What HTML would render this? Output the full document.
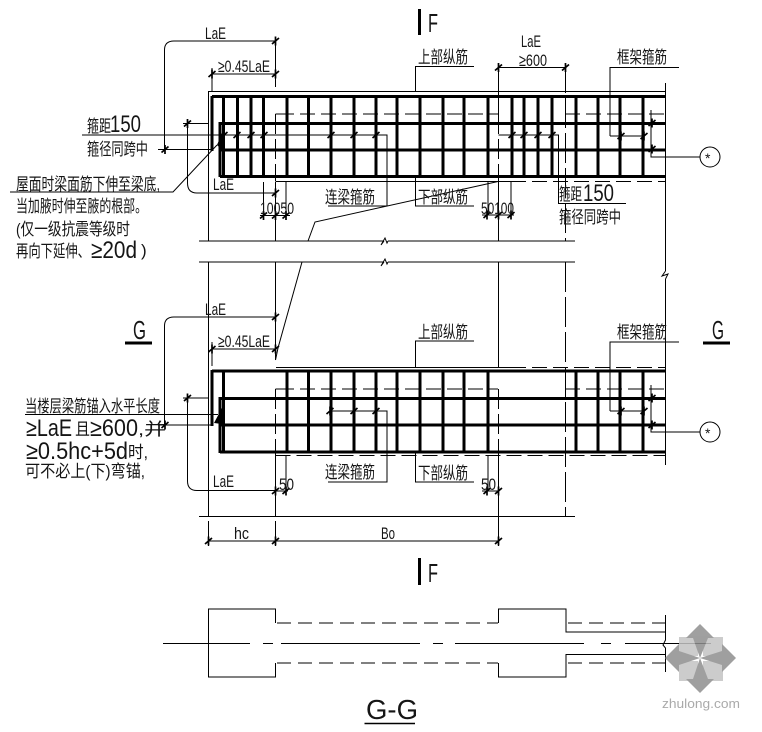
<!DOCTYPE html>
<html><head><meta charset="utf-8"><style>
html,body{margin:0;padding:0;background:#fff}
svg{display:block}
text{font-family:"Liberation Sans","Noto Sans CJK SC",sans-serif;fill:#151515}
.c{font-size:17px}
.l{font-size:17px}
.b{font-size:24px}
</style></head><body>
<svg width="762" height="732" viewBox="0 0 762 732" xmlns="http://www.w3.org/2000/svg">
<defs><path id="t" d="M-3.5,3 L3.5,-3 M0,-4.5 L0,4.5" stroke="#000" stroke-width="1.7" fill="none"/></defs>

<!-- thin lines -->
<g fill="none" stroke="#000" stroke-width="1">
<path d="M208.5,241V91.5H665M275.5,41V87M275.5,181.5V241M276,181.5H511M199,241H384M388,241H575M199,262H384M388,262H575M208.5,262V516.5M275.5,262V360M275.5,456V516.5M665.5,83V271M665.5,279V465"/>
<path d="M384,241L381,245L385,238L387,243L388,241M384,262L381,266L385,259L387,264L388,262M665.5,271L662,276L668,274L665.5,279"/>
<path d="M498.5,63V114M498.5,181V241M498.5,262V367M498.5,456V546"/>
<path stroke-dasharray="20,5" d="M275.5,114V181M498.5,114V181M498.5,389V456M275.5,389V456"/>
<path stroke-dasharray="30,5" d="M565.5,63V241M565.5,262V516.5"/>
<path stroke-dasharray="15,6" d="M279,114H498M565,114H665M511,181.5H665M279,389H498M565,389H665M511,367.5H665M275.5,455.5H665"/>
<path d="M275.5,114H279M275.5,389H279M276,367.5H511"/>
<path d="M275,41H174Q164.5,41 164.5,50V149.5M158,149.5H212M212,68V91M212,74H275"/>
<path d="M82,135H264M224,135H387V206H328M183,123.5H208M187.5,123.5V183Q187.5,193 197,193H275"/>
<path d="M10,192H173L217,145M263.5,182V218M286,182V220M260,215.5H290"/>
<path d="M308,241L315,222L498,181.5M302,262L278,348L275.5,360"/>
<path d="M415.5,91V66.5H474M498,67.5H565M610,136V67.5H679M610,136H644M651,110V157H700"/>
<path d="M415.5,177V206H474M488,182V215M511,182V215M482,215H514M498.5,135H558.5V203.5H626"/>
<path d="M275,317H174Q164.5,317 164.5,326V425M158,425H212M212,342V366M212,349H275"/>
<path d="M25,414.5H218M183,398H208M187.5,398V481Q187.5,490.5 197,490.5H275M286,456V494M275,491H288"/>
<path d="M330,411H387V482H328M415.5,367V341H474M610,368V342H679M610,411V342M610,411H644M651,385V432H700M415.5,452V482H474M488,456V491M482,491H498M199,516.5H575M275,541H498M208,541H275M208.5,521V546M275.5,521V546"/>
<circle cx="710" cy="157" r="10"/>
<circle cx="710" cy="432" r="10"/>
<path d="M275.5,623V609H208.5V677H275.5V663M498.5,623V609H566V632H665M498.5,663V677H566V654.5H665M665.5,615V640L663,645L665.5,648V672"/>
<path stroke-dasharray="14,7" d="M277,623H498M277,663H498M568,623H665M568,663H665"/>
<path d="M163,643.5H250M263,643.5H273M281,643.5H420M433,643.5H443M455,643.5H584M601,643.5H611M625,643.5H711"/>
</g>

<!-- thick top beam -->
<g fill="none" stroke="#000" stroke-width="3">
<path d="M212,96.5H665M220,123.5H665M220,150H665M220,176.5H665M212,96V151M220,122V177"/>
<path d="M223.5,96V177M237.5,96V177M251,96V177M263.5,96V177M287,96V177M308.5,96V177M331,96V177M354,96V177M376,96V177M397,96V177M420,96V177M443,96V177M464,96V177M488,96V177M512,96V177M524,96V177M538,96V177M552,96V177M576,96V177M598,96V177M620,96V177M643,96V177"/>
</g>
<!-- thick lower beam -->
<g fill="none" stroke="#000" stroke-width="3">
<path d="M212,371H665M220,398.5H665M220,425H665M220,452H665M212,370V426M220,397V453"/>
<path d="M223.5,371V452M287,371V452M308.5,371V452M331,371V452M354,371V452M376,371V452M397,371V452M420,371V452M443,371V452M464,371V452M488,371V452M576,371V452M598,371V452M620,371V452M643,371V452"/>
</g>
<path d="M217,145L222,133L222,150Z M214,423L222,408L222,424Z" fill="#000"/>
<path d="M419.5,9V35M419.5,558V585M125,343H152M703,343H730" stroke="#000" stroke-width="3" fill="none"/>
<path d="M364.5,723.5H415" stroke="#000" stroke-width="1.5"/>

<!-- ticks -->
<g>
<use href="#t" x="275.5" y="41"/><use href="#t" x="212" y="74"/><use href="#t" x="275.5" y="74"/>
<use href="#t" x="187.5" y="123.5"/><use href="#t" x="165" y="149.5"/><use href="#t" x="224" y="135"/><use href="#t" x="237" y="135"/><use href="#t" x="251" y="135"/><use href="#t" x="264" y="135"/><use href="#t" x="331" y="135"/><use href="#t" x="354" y="135"/><use href="#t" x="376" y="135"/>
<use href="#t" x="275.5" y="193"/><use href="#t" x="263.5" y="215.5"/><use href="#t" x="275.5" y="215.5"/><use href="#t" x="286" y="215.5"/>
<use href="#t" x="498.5" y="67.5"/><use href="#t" x="565.5" y="67.5"/><use href="#t" x="512" y="135"/><use href="#t" x="524" y="135"/><use href="#t" x="538" y="135"/><use href="#t" x="552" y="135"/>
<use href="#t" x="621" y="136"/><use href="#t" x="644" y="136"/><use href="#t" x="652" y="123"/><use href="#t" x="652" y="149"/>
<use href="#t" x="487" y="215"/><use href="#t" x="498.5" y="215"/><use href="#t" x="511" y="215"/>
<use href="#t" x="275.5" y="317"/><use href="#t" x="212" y="349"/><use href="#t" x="275.5" y="349"/><use href="#t" x="187.5" y="398"/><use href="#t" x="165" y="425"/>
<use href="#t" x="330" y="411"/><use href="#t" x="354" y="411"/><use href="#t" x="376" y="411"/>
<use href="#t" x="275.5" y="491"/><use href="#t" x="286" y="491"/>
<use href="#t" x="621" y="411"/><use href="#t" x="644" y="411"/><use href="#t" x="652" y="398"/><use href="#t" x="652" y="425"/>
<use href="#t" x="487" y="491"/><use href="#t" x="498.5" y="491"/>
<use href="#t" x="208.5" y="541"/><use href="#t" x="275.5" y="541"/><use href="#t" x="498.5" y="541"/>
</g>

<!-- watermark -->
<g opacity="0.85">
<rect x="679" y="637" width="19" height="19" fill="#c4c4c4"/><rect x="703" y="637" width="20" height="19" fill="#c4c4c4"/><rect x="679" y="661" width="19" height="20" fill="#c4c4c4"/><rect x="703" y="661" width="20" height="20" fill="#c4c4c4"/>
<path d="M700,624L714,638H708L700,658L693,638H686ZM700,693L714,679H708L700,658L693,679H686ZM665,658L679,644V651L700,658L679,665V672ZM736,658L722,644V651L700,658L722,665V672Z" fill="#8f8f8f"/>
</g>
<text x="662" y="708" style="font-size:13px;fill:#aaa" textLength="78" lengthAdjust="spacingAndGlyphs">zhulong.com</text>

<!-- labels top -->
<text class="l" x="205" y="39" textLength="21" lengthAdjust="spacingAndGlyphs">LaE</text>
<text class="l" x="218" y="72" textLength="52" lengthAdjust="spacingAndGlyphs">≥0.45LaE</text>
<text class="c" x="87" y="132" textLength="24" lengthAdjust="spacingAndGlyphs">箍距</text>
<text class="b" x="110" y="132" textLength="31" lengthAdjust="spacingAndGlyphs">150</text>
<text class="c" x="87" y="155" textLength="61" lengthAdjust="spacingAndGlyphs">箍径同跨中</text>
<text class="c" x="16" y="190" textLength="144" lengthAdjust="spacingAndGlyphs">屋面时梁面筋下伸至梁底,</text>
<text class="c" x="16" y="212" textLength="131" lengthAdjust="spacingAndGlyphs">当加腋时伸至腋的根部。</text>
<text class="c" x="16" y="235" textLength="114" lengthAdjust="spacingAndGlyphs">(仅一级抗震等级时</text>
<text class="c" x="16" y="257" textLength="74" lengthAdjust="spacingAndGlyphs">再向下延伸、</text>
<text class="b" x="91" y="258" textLength="46" lengthAdjust="spacingAndGlyphs">≥20d</text>
<text class="c" x="141" y="256">)</text>
<text class="l" x="213" y="190" textLength="21" lengthAdjust="spacingAndGlyphs">LaE</text>
<text class="l" x="260" y="214" textLength="34" lengthAdjust="spacingAndGlyphs">10050</text>
<text class="c" x="325" y="203" textLength="50" lengthAdjust="spacingAndGlyphs">连梁箍筋</text>
<text class="c" x="418" y="63" textLength="50" lengthAdjust="spacingAndGlyphs">上部纵筋</text>
<text class="c" x="418" y="203" textLength="50" lengthAdjust="spacingAndGlyphs">下部纵筋</text>
<text class="l" x="521" y="47" textLength="20" lengthAdjust="spacingAndGlyphs">LaE</text>
<text class="l" x="519" y="66" textLength="28" lengthAdjust="spacingAndGlyphs">≥600</text>
<text class="c" x="617" y="63" textLength="50" lengthAdjust="spacingAndGlyphs">框架箍筋</text>
<text class="l" x="481" y="214" textLength="33" lengthAdjust="spacingAndGlyphs">50100</text>
<text class="c" x="559" y="200" textLength="23" lengthAdjust="spacingAndGlyphs">箍距</text>
<text class="b" x="583" y="201" textLength="31" lengthAdjust="spacingAndGlyphs">150</text>
<text class="c" x="559" y="223" textLength="62" lengthAdjust="spacingAndGlyphs">箍径同跨中</text>
<text x="705" y="163" style="font-size:14px">*</text>
<text x="428" y="32" style="font-size:26px" textLength="10" lengthAdjust="spacingAndGlyphs">F</text>

<!-- labels lower -->
<text x="133" y="339" style="font-size:26px" textLength="13" lengthAdjust="spacingAndGlyphs">G</text>
<text x="712" y="339" style="font-size:26px" textLength="12" lengthAdjust="spacingAndGlyphs">G</text>
<text class="l" x="205" y="315" textLength="21" lengthAdjust="spacingAndGlyphs">LaE</text>
<text class="l" x="218" y="347" textLength="52" lengthAdjust="spacingAndGlyphs">≥0.45LaE</text>
<text class="c" x="25" y="412" textLength="135" lengthAdjust="spacingAndGlyphs">当楼层梁筋锚入水平长度</text>
<text class="b" x="26" y="436" textLength="46" lengthAdjust="spacingAndGlyphs">≥LaE</text>
<text class="c" x="75" y="435" textLength="15" lengthAdjust="spacingAndGlyphs">且</text>
<text class="b" x="90" y="436" textLength="48" lengthAdjust="spacingAndGlyphs">≥600</text>
<text class="c" x="138" y="435" textLength="28" lengthAdjust="spacingAndGlyphs">,并</text>
<text class="b" x="26" y="459" textLength="102" lengthAdjust="spacingAndGlyphs">≥0.5hc+5d</text>
<text class="c" x="128" y="458" textLength="20" lengthAdjust="spacingAndGlyphs">时,</text>
<text class="c" x="25" y="477" textLength="120" lengthAdjust="spacingAndGlyphs">可不必上(下)弯锚,</text>
<text class="l" x="213" y="487" textLength="21" lengthAdjust="spacingAndGlyphs">LaE</text>
<text class="l" x="279" y="490" textLength="15" lengthAdjust="spacingAndGlyphs">50</text>
<text class="c" x="325" y="478" textLength="50" lengthAdjust="spacingAndGlyphs">连梁箍筋</text>
<text class="c" x="418" y="338" textLength="50" lengthAdjust="spacingAndGlyphs">上部纵筋</text>
<text class="c" x="418" y="479" textLength="50" lengthAdjust="spacingAndGlyphs">下部纵筋</text>
<text class="c" x="617" y="338" textLength="50" lengthAdjust="spacingAndGlyphs">框架箍筋</text>
<text class="l" x="481" y="490" textLength="15" lengthAdjust="spacingAndGlyphs">50</text>
<text x="705" y="438" style="font-size:14px">*</text>
<text class="l" x="234" y="539" textLength="15" lengthAdjust="spacingAndGlyphs">hc</text>
<text class="l" x="381" y="539" textLength="14" lengthAdjust="spacingAndGlyphs">Bo</text>
<text x="428" y="582" style="font-size:26px" textLength="10" lengthAdjust="spacingAndGlyphs">F</text>
<text x="366" y="719" style="font-size:28px" textLength="52" lengthAdjust="spacingAndGlyphs">G-G</text>
</svg>
</body></html>
